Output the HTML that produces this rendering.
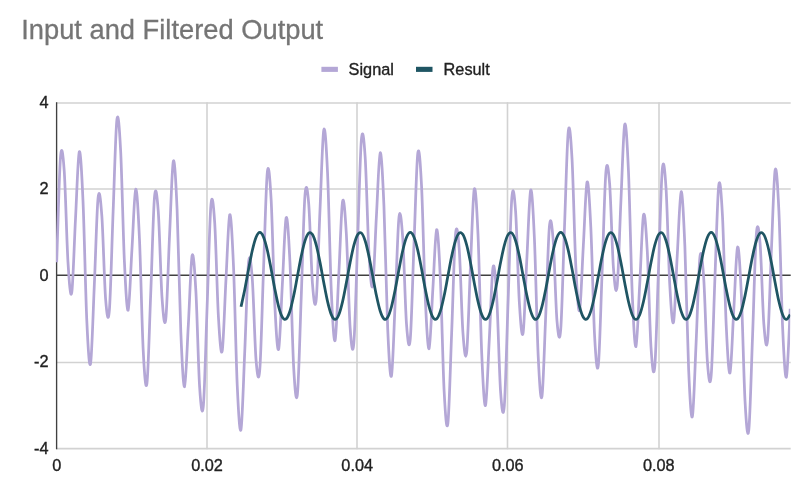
<!DOCTYPE html>
<html><head><meta charset="utf-8"><style>
html,body{margin:0;padding:0;background:#fff;}
body{width:799px;height:482px;overflow:hidden;position:relative;font-family:"Liberation Sans",sans-serif;}
svg{position:absolute;left:0;top:0;will-change:transform;}
text{font-family:"Liberation Sans",sans-serif;}
</style></head><body>
<svg width="799" height="482" viewBox="0 0 799 482">
<text x="21.2" y="38.8" font-size="27.3" fill="#757575" stroke="#757575" stroke-width="0.3">Input and Filtered Output</text>
<rect x="321.4" y="66.8" width="16.5" height="5.1" fill="#b4a7d6"/>
<text x="348.6" y="74.8" font-size="16.3" fill="#222" stroke="#222" stroke-width="0.35">Signal</text>
<rect x="416" y="66.8" width="16.5" height="5.1" fill="#1f5563"/>
<text x="443.6" y="74.8" font-size="16.3" fill="#222" stroke="#222" stroke-width="0.35">Result</text>
<g stroke="#d2d2d2" stroke-width="1.6"><line x1="56" x2="790.7" y1="103.06" y2="103.06"/><line x1="56" x2="790.7" y1="189.0" y2="189.0"/><line x1="56" x2="790.7" y1="362.5" y2="362.5"/><line x1="56" x2="790.7" y1="448.6" y2="448.6"/><line x1="207.0" x2="207.0" y1="102.3" y2="449.3"/><line x1="357.0" x2="357.0" y1="102.3" y2="449.3"/><line x1="507.5" x2="507.5" y1="102.3" y2="449.3"/><line x1="659.0" x2="659.0" y1="102.3" y2="449.3"/></g>
<g stroke="#404040" stroke-width="1.35">
<line x1="56" x2="790.7" y1="275.2" y2="275.2"/>
<line x1="56.6" x2="56.6" y1="102.3" y2="449.3"/>
</g>
<g font-size="16.3" fill="#222" stroke="#222" stroke-width="0.35" text-anchor="end"><text x="48.6" y="107.6">4</text><text x="48.6" y="193.8">2</text><text x="48.6" y="280.8">0</text><text x="48.6" y="366.8">-2</text><text x="48.6" y="453.7">-4</text></g>
<g font-size="16.3" fill="#222" stroke="#222" stroke-width="0.35" text-anchor="middle"><text x="56.75" y="470.6">0</text><text x="207" y="470.6">0.02</text><text x="357.2" y="470.6">0.04</text><text x="507.8" y="470.6">0.06</text><text x="658.8" y="470.6">0.08</text></g>
<clipPath id="c"><rect x="56" y="100" width="734.2" height="350"/></clipPath>
<g clip-path="url(#c)" fill="none" stroke-linejoin="round" stroke-linecap="butt">
<path d="M56.70,262.29C57.33,244.84 59.21,172.82 60.46,157.57C61.72,142.33 62.97,153.42 64.22,170.83C65.48,188.25 66.73,241.77 67.98,262.06C69.24,282.36 70.49,299.82 71.75,292.60C73.00,285.39 74.25,242.23 75.51,218.76C76.76,195.29 78.02,154.67 79.27,151.81C80.52,148.95 81.78,173.49 83.03,201.58C84.28,229.67 85.54,293.32 86.79,320.33C88.05,347.34 89.30,369.48 90.55,363.64C91.81,357.80 93.06,312.92 94.31,285.29C95.57,257.65 96.82,209.40 98.08,197.82C99.33,186.24 100.58,199.00 101.84,215.83C103.09,232.65 104.35,283.02 105.60,298.78C106.85,314.55 108.11,324.91 109.36,310.39C110.61,295.87 111.87,243.41 113.12,211.66C114.38,179.91 115.63,130.00 116.88,119.88C118.14,109.75 119.39,127.27 120.65,150.90C121.90,174.54 123.15,235.15 124.41,261.69C125.66,288.24 126.91,312.19 128.17,310.18C129.42,308.17 130.68,269.78 131.93,249.63C133.18,229.49 134.44,191.18 135.69,189.32C136.95,187.47 138.20,211.65 139.45,238.50C140.71,265.36 141.96,326.35 143.21,350.44C144.47,374.53 145.72,392.58 146.98,383.06C148.23,373.54 149.48,324.31 150.74,293.30C151.99,262.30 153.25,210.65 154.50,197.01C155.75,183.36 157.01,194.68 158.26,211.45C159.51,228.21 160.77,279.65 162.02,297.60C163.28,315.55 164.53,329.49 165.78,319.14C167.04,308.79 168.29,261.82 169.55,235.51C170.80,209.20 172.05,165.71 173.31,161.28C174.56,156.85 175.81,180.44 177.07,208.94C178.32,237.43 179.58,302.60 180.83,332.23C182.08,361.86 183.34,387.98 184.59,386.70C185.84,385.42 187.10,346.42 188.35,324.57C189.61,302.72 190.86,261.20 192.11,255.62C193.37,250.03 194.62,269.15 195.88,291.08C197.13,313.01 198.38,368.17 199.64,387.21C200.89,406.26 202.14,418.97 203.40,405.32C204.65,391.68 205.91,338.72 207.16,305.35C208.41,271.98 209.67,218.93 210.92,205.11C212.18,191.29 213.43,203.74 214.68,222.43C215.94,241.13 217.19,295.85 218.44,317.27C219.70,338.68 220.95,357.19 222.21,350.92C223.46,344.66 224.71,302.37 225.97,279.68C227.22,256.98 228.48,217.05 229.73,214.78C230.98,212.51 232.24,237.56 233.49,266.05C234.74,294.54 236.00,358.50 237.25,385.72C238.51,412.94 239.76,435.19 241.01,429.37C242.27,423.55 243.52,378.59 244.78,350.78C246.03,322.97 247.28,274.44 248.54,262.49C249.79,250.55 251.04,262.84 252.30,279.10C253.55,295.37 254.81,345.09 256.06,360.11C257.31,375.12 258.57,384.66 259.82,369.21C261.07,353.77 262.33,300.30 263.58,267.46C264.84,234.61 266.09,183.53 267.34,172.16C268.60,160.78 269.85,176.96 271.11,199.20C272.36,221.44 273.61,280.57 274.87,305.58C276.12,330.59 277.37,352.93 278.63,349.26C279.88,345.60 281.14,305.48 282.39,283.57C283.64,261.66 284.90,221.52 286.15,217.81C287.41,214.10 288.66,236.37 289.91,261.29C291.17,286.21 292.42,345.22 293.67,367.32C294.93,389.42 296.18,405.44 297.44,393.89C298.69,382.33 299.94,331.05 301.20,297.98C302.45,264.92 303.71,211.20 304.96,195.50C306.21,179.79 307.47,189.04 308.72,203.76C309.97,218.47 311.23,267.87 312.48,283.80C313.74,299.73 314.99,311.67 316.24,299.35C317.50,287.04 318.75,238.12 320.00,209.91C321.26,181.70 322.51,136.34 323.77,130.09C325.02,123.85 326.27,145.67 327.53,172.44C328.78,199.22 330.04,262.73 331.29,290.75C332.54,318.78 333.80,343.36 335.05,340.61C336.30,337.86 337.56,297.45 338.81,274.27C340.07,251.10 341.32,208.31 342.57,201.56C343.83,194.80 345.08,212.82 346.34,233.74C347.59,254.67 348.84,308.90 350.10,327.11C351.35,345.31 352.60,357.27 353.86,342.97C355.11,328.68 356.37,275.15 357.62,241.32C358.87,207.48 360.13,154.06 361.38,139.97C362.64,125.87 363.89,138.14 365.14,156.75C366.40,175.36 367.65,230.10 368.90,251.63C370.16,273.15 371.41,291.87 372.67,285.91C373.92,279.95 375.17,238.06 376.43,215.87C377.68,193.67 378.94,154.33 380.19,152.74C381.44,151.15 382.70,176.98 383.95,206.33C385.20,235.68 386.46,300.60 387.71,328.85C388.97,357.11 390.22,380.49 391.47,375.86C392.73,371.24 393.98,327.57 395.23,301.11C396.49,274.65 397.74,227.55 399.00,217.09C400.25,206.64 401.50,220.49 402.76,238.38C404.01,256.27 405.27,307.67 406.52,324.42C407.77,341.17 409.03,352.49 410.28,338.88C411.53,325.27 412.79,273.67 414.04,242.74C415.30,211.81 416.55,162.69 417.80,153.29C419.06,143.89 420.31,162.08 421.57,186.34C422.82,210.60 424.07,271.78 425.33,298.84C426.58,325.90 427.83,350.32 429.09,348.71C430.34,347.11 431.60,309.06 432.85,289.21C434.10,269.35 435.36,231.27 436.61,229.59C437.87,227.90 439.12,252.20 440.37,279.10C441.63,306.00 442.88,366.98 444.13,391.01C445.39,415.03 446.64,432.95 447.90,423.24C449.15,413.53 450.40,364.05 451.66,332.74C452.91,301.42 454.17,249.41 455.42,235.35C456.67,221.28 457.93,232.12 459.18,248.35C460.43,264.58 461.69,315.43 462.94,332.74C464.20,350.05 465.45,363.30 466.70,352.21C467.96,341.12 469.21,293.36 470.46,266.21C471.72,239.07 472.97,194.69 474.23,189.34C475.48,183.99 476.73,206.61 477.99,234.11C479.24,261.60 480.50,325.73 481.75,354.29C483.00,382.84 484.26,407.86 485.51,405.45C486.76,403.04 488.02,362.87 489.27,339.84C490.53,316.81 491.78,274.08 493.03,267.28C494.29,260.48 495.54,278.34 496.80,299.03C498.05,319.71 499.30,373.61 500.56,391.38C501.81,409.15 503.06,420.58 504.32,405.66C505.57,390.74 506.83,336.50 508.08,301.87C509.33,267.23 510.59,212.91 511.84,197.84C513.10,182.76 514.35,193.96 515.60,211.43C516.86,228.89 518.11,282.40 519.36,302.63C520.62,322.86 521.87,340.19 523.13,332.78C524.38,325.38 525.63,281.97 526.89,258.20C528.14,234.42 529.40,193.43 530.65,190.15C531.90,186.86 533.16,210.93 534.41,238.48C535.66,266.04 536.92,329.10 538.17,355.47C539.43,381.84 540.68,403.28 541.93,396.70C543.19,390.12 544.44,344.46 545.70,315.99C546.95,287.52 548.20,238.38 549.46,225.88C550.71,213.38 551.96,225.17 553.22,241.00C554.47,256.82 555.73,306.15 556.98,320.84C558.23,335.53 559.49,344.79 560.74,329.14C561.99,313.49 563.25,259.86 564.50,226.93C565.76,194.00 567.01,142.89 568.26,131.54C569.52,120.19 570.77,136.47 572.03,158.85C573.28,181.24 574.53,240.58 575.79,265.85C577.04,291.13 578.29,313.80 579.55,310.52C580.80,307.24 582.06,267.56 583.31,246.15C584.56,224.74 585.82,185.15 587.07,182.05C588.33,178.94 589.58,201.87 590.83,227.50C592.09,253.12 593.34,312.90 594.59,335.80C595.85,358.71 597.10,375.58 598.36,364.92C599.61,354.26 600.86,303.91 602.12,271.82C603.37,239.73 604.63,187.03 605.88,172.38C607.13,157.72 608.39,168.06 609.64,183.88C610.89,199.71 612.15,250.25 613.40,267.35C614.66,284.45 615.91,297.58 617.16,286.47C618.42,275.37 619.67,227.69 620.93,200.72C622.18,173.75 623.43,129.65 624.69,124.66C625.94,119.68 627.19,142.78 628.45,170.83C629.70,198.88 630.96,263.66 632.21,292.96C633.46,322.26 634.72,348.12 635.97,346.63C637.22,345.14 638.48,305.98 639.73,284.04C640.99,262.11 642.24,220.55 643.49,215.00C644.75,209.45 646.00,228.65 647.26,250.73C648.51,272.81 649.76,328.18 651.02,347.49C652.27,366.80 653.52,379.84 654.78,366.58C656.03,353.32 657.29,300.80 658.54,267.93C659.79,235.06 661.05,182.56 662.30,169.35C663.56,156.13 664.81,169.24 666.06,188.64C667.32,208.04 668.57,263.53 669.82,285.75C671.08,307.97 672.33,327.33 673.59,321.95C674.84,316.58 676.09,275.23 677.35,253.52C678.60,231.80 679.86,192.89 681.11,191.66C682.36,190.44 683.62,216.57 684.87,246.17C686.12,275.78 687.38,340.88 688.63,369.27C689.89,397.65 691.14,421.10 692.39,416.49C693.65,411.88 694.90,368.16 696.16,341.59C697.41,315.01 698.66,267.75 699.92,257.06C701.17,246.38 702.42,259.94 703.68,277.49C704.93,295.03 706.19,346.02 707.44,362.32C708.69,378.61 709.95,389.41 711.20,375.23C712.45,361.05 713.71,308.83 714.96,277.23C716.22,245.62 717.47,195.77 718.72,185.60C719.98,175.43 721.23,192.80 722.49,216.19C723.74,239.58 724.99,299.85 726.25,325.96C727.50,352.08 728.75,375.50 730.01,372.87C731.26,370.24 732.52,331.13 733.77,310.18C735.02,289.24 736.28,250.03 737.53,247.19C738.79,244.36 740.04,267.47 741.29,293.18C742.55,318.89 743.80,378.65 745.05,401.44C746.31,424.23 747.56,440.90 748.82,429.93C750.07,418.96 751.32,368.22 752.58,335.63C753.83,303.05 755.09,249.75 756.34,234.41C757.59,219.07 758.85,228.63 760.10,243.60C761.35,258.57 762.61,308.15 763.86,324.21C765.12,340.28 766.37,352.28 767.62,339.98C768.88,327.67 770.13,278.71 771.39,250.39C772.64,222.07 773.89,176.54 775.15,170.06C776.40,163.59 777.65,185.12 778.91,211.55C780.16,237.98 781.42,301.08 782.67,328.65C783.92,356.22 785.18,380.28 786.43,376.96C787.68,373.65 789.57,320.12 790.19,308.76" stroke="#b4a7d6" stroke-width="2.75"/>
<path d="M241.01,306.80C241.64,303.92 243.52,295.78 244.78,289.53C246.03,283.29 247.28,275.81 248.54,269.31C249.79,262.81 251.04,255.87 252.30,250.54C253.55,245.20 254.81,240.31 256.06,237.30C257.31,234.29 258.57,232.51 259.82,232.49C261.07,232.47 262.33,234.19 263.58,237.16C264.84,240.12 266.09,244.97 267.34,250.28C268.60,255.59 269.85,262.51 271.11,269.00C272.36,275.49 273.61,282.97 274.87,289.23C276.12,295.50 277.37,301.91 278.63,306.57C279.88,311.24 281.14,315.18 282.39,317.24C283.64,319.29 284.90,319.90 286.15,318.90C287.41,317.89 288.66,315.04 289.91,311.20C291.17,307.35 292.42,301.66 293.67,295.81C294.93,289.96 296.18,282.67 297.44,276.09C298.69,269.52 299.94,262.22 301.20,256.35C302.45,250.48 303.71,244.76 304.96,240.87C306.21,236.99 307.47,234.10 308.72,233.05C309.97,232.00 311.23,232.56 312.48,234.58C313.74,236.59 314.99,240.49 316.24,245.12C317.50,249.76 318.75,256.14 320.00,262.39C321.26,268.64 322.51,276.12 323.77,282.62C325.02,289.11 326.27,296.05 327.53,301.39C328.78,306.72 330.04,311.61 331.29,314.61C332.54,317.62 333.80,319.39 335.05,319.41C336.30,319.43 337.56,317.70 338.81,314.73C340.07,311.76 341.32,306.91 342.57,301.60C343.83,296.29 345.08,289.37 346.34,282.87C347.59,276.38 348.84,268.90 350.10,262.64C351.35,256.38 352.60,249.97 353.86,245.31C355.11,240.64 356.37,236.71 357.62,234.66C358.87,232.61 360.13,232.00 361.38,233.01C362.64,234.02 363.89,236.87 365.14,240.72C366.40,244.57 367.65,250.26 368.90,256.11C370.16,261.97 371.41,269.26 372.67,275.83C373.92,282.41 375.17,289.71 376.43,295.58C377.68,301.45 378.94,307.16 380.19,311.04C381.44,314.92 382.70,317.81 383.95,318.86C385.20,319.90 386.46,319.33 387.71,317.32C388.97,315.30 390.22,311.40 391.47,306.76C392.73,302.12 393.98,295.73 395.23,289.48C396.49,283.23 397.74,275.76 399.00,269.26C400.25,262.76 401.50,255.82 402.76,250.49C404.01,245.16 405.27,240.28 406.52,237.28C407.77,234.28 409.03,232.51 410.28,232.49C411.53,232.48 412.79,234.21 414.04,237.18C415.30,240.15 416.55,245.01 417.80,250.32C419.06,255.64 420.31,262.56 421.57,269.05C422.82,275.55 424.07,283.03 425.33,289.29C426.58,295.55 427.83,301.95 429.09,306.61C430.34,311.27 431.60,315.21 432.85,317.25C434.10,319.30 435.36,319.90 436.61,318.89C437.87,317.87 439.12,315.02 440.37,311.16C441.63,307.31 442.88,301.62 444.13,295.76C445.39,289.91 446.64,282.62 447.90,276.04C449.15,269.46 450.40,262.17 451.66,256.30C452.91,250.43 454.17,244.72 455.42,240.84C456.67,236.97 457.93,234.08 459.18,233.04C460.43,232.00 461.69,232.57 462.94,234.59C464.20,236.61 465.45,240.52 466.70,245.16C467.96,249.80 469.21,256.19 470.46,262.44C471.72,268.69 472.97,276.17 474.23,282.67C475.48,289.17 476.73,296.10 477.99,301.43C479.24,306.76 480.50,311.64 481.75,314.64C483.00,317.63 484.26,319.40 485.51,319.41C486.76,319.42 488.02,317.68 489.27,314.71C490.53,311.73 491.78,306.87 493.03,301.55C494.29,296.24 495.54,289.31 496.80,282.82C498.05,276.33 499.30,268.85 500.56,262.59C501.81,256.33 503.06,249.93 504.32,245.27C505.57,240.61 506.83,236.68 508.08,234.64C509.33,232.60 510.59,232.00 511.84,233.02C513.10,234.03 514.35,236.89 515.60,240.75C516.86,244.61 518.11,250.31 519.36,256.16C520.62,262.02 521.87,269.31 523.13,275.89C524.38,282.46 525.63,289.76 526.89,295.63C528.14,301.49 529.40,307.20 530.65,311.07C531.90,314.95 533.16,317.83 534.41,318.86C535.66,319.90 536.92,319.32 538.17,317.30C539.43,315.28 540.68,311.36 541.93,306.72C543.19,302.08 544.44,295.68 545.70,289.43C546.95,283.18 548.20,275.70 549.46,269.20C550.71,262.71 551.96,255.77 553.22,250.45C554.47,245.12 555.73,240.24 556.98,237.25C558.23,234.26 559.49,232.50 560.74,232.49C561.99,232.48 563.25,234.23 564.50,237.21C565.76,240.19 567.01,245.05 568.26,250.37C569.52,255.68 570.77,262.61 572.03,269.11C573.28,275.60 574.53,283.08 575.79,289.34C577.04,295.60 578.29,302.00 579.55,306.65C580.80,311.31 582.06,315.23 583.31,317.27C584.56,319.31 585.82,319.90 587.07,318.88C588.33,317.86 589.58,314.99 590.83,311.13C592.09,307.27 593.34,301.57 594.59,295.71C595.85,289.86 597.10,282.56 598.36,275.99C599.61,269.41 600.86,262.11 602.12,256.25C603.37,250.39 604.63,244.68 605.88,240.81C607.13,236.94 608.39,234.06 609.64,233.03C610.89,232.00 612.15,232.58 613.40,234.61C614.66,236.64 615.91,240.55 617.16,245.20C618.42,249.85 619.67,256.24 620.93,262.49C622.18,268.75 623.43,276.23 624.69,282.72C625.94,289.22 627.19,296.15 628.45,301.47C629.70,306.80 630.96,311.67 632.21,314.66C633.46,317.65 634.72,319.41 635.97,319.41C637.22,319.41 638.48,317.66 639.73,314.68C640.99,311.70 642.24,306.83 643.49,301.51C644.75,296.19 646.00,289.26 647.26,282.77C648.51,276.27 649.76,268.79 651.02,262.54C652.27,256.28 653.52,249.88 654.78,245.23C656.03,240.58 657.29,236.66 658.54,234.62C659.79,232.59 661.05,232.00 662.30,233.02C663.56,234.05 664.81,236.92 666.06,240.78C667.32,244.65 668.57,250.35 669.82,256.21C671.08,262.07 672.33,269.36 673.59,275.94C674.84,282.52 676.09,289.81 677.35,295.67C678.60,301.53 679.86,307.24 681.11,311.11C682.36,314.97 683.62,317.84 684.87,318.87C686.12,319.90 687.38,319.32 688.63,317.28C689.89,315.25 691.14,311.33 692.39,306.68C693.65,302.03 694.90,295.63 696.16,289.38C697.41,283.12 698.66,275.65 699.92,269.15C701.17,262.65 702.42,255.72 703.68,250.40C704.93,245.08 706.19,240.21 707.44,237.23C708.69,234.24 709.95,232.49 711.20,232.49C712.45,232.49 713.71,234.24 714.96,237.23C716.22,240.22 717.47,245.09 718.72,250.41C719.98,255.73 721.23,262.66 722.49,269.16C723.74,275.66 724.99,283.14 726.25,289.39C727.50,295.64 728.75,302.04 730.01,306.69C731.26,311.34 732.52,315.26 733.77,317.29C735.02,319.32 736.28,319.90 737.53,318.87C738.79,317.84 740.04,314.97 741.29,311.10C742.55,307.23 743.80,301.53 745.05,295.66C746.31,289.80 747.56,282.51 748.82,275.93C750.07,269.35 751.32,262.06 752.58,256.20C753.83,250.34 755.09,244.64 756.34,240.78C757.59,236.91 758.85,234.05 760.10,233.02C761.35,232.00 762.61,232.59 763.86,234.63C765.12,236.66 766.37,240.58 767.62,245.24C768.88,249.89 770.13,256.29 771.39,262.55C772.64,268.80 773.89,276.28 775.15,282.78C776.40,289.27 777.65,296.20 778.91,301.52C780.16,306.84 781.42,311.70 782.67,314.69C783.92,317.67 785.18,319.41 786.43,319.41C787.68,319.40 789.57,315.45 790.19,314.66" stroke="#1f5563" stroke-width="2.75"/>
</g>
</svg>
</body></html>
